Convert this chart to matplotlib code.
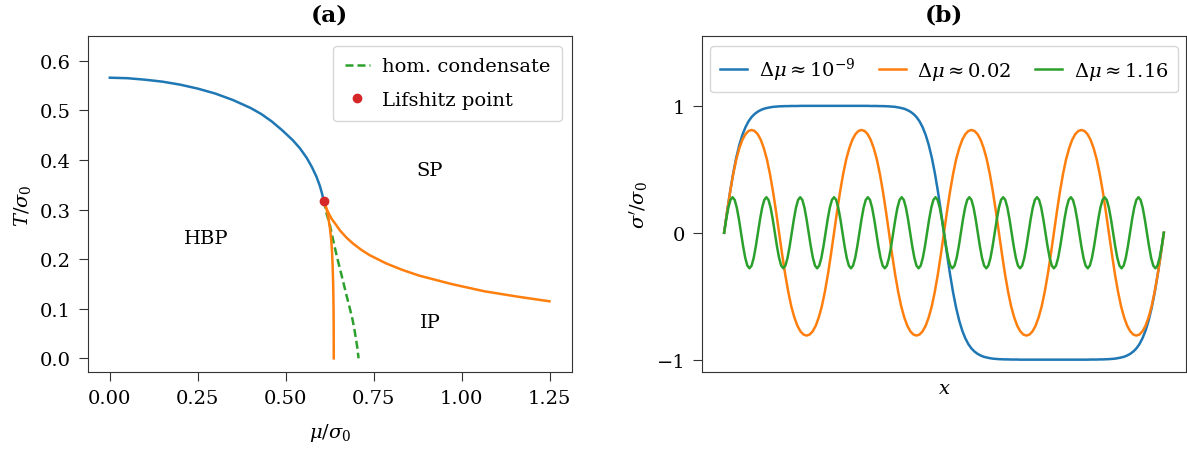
import numpy as np
import matplotlib.pyplot as plt
from matplotlib.ticker import FormatStrFormatter

plt.rcParams['font.family'] = 'DejaVu Serif'
plt.rcParams['mathtext.fontset'] = 'dejavuserif'
plt.rcParams['font.size'] = 14
plt.rcParams['axes.edgecolor'] = '#333333'
plt.rcParams['xtick.color'] = '#333333'
plt.rcParams['ytick.color'] = '#333333'
plt.rcParams['xtick.labelcolor'] = 'black'
plt.rcParams['ytick.labelcolor'] = 'black'
plt.rcParams['xtick.major.size'] = 6.5
plt.rcParams['ytick.major.size'] = 6.5
plt.rcParams['xtick.major.pad'] = 5.5
plt.rcParams['ytick.major.pad'] = 5.5
plt.rcParams['axes.labelpad'] = 5

# (a) phase boundaries in the (mu, T) plane, both in units of sigma_0
hom_mu = [0.0, 0.05, 0.10, 0.15, 0.20, 0.25, 0.30, 0.35, 0.40, 0.43, 0.46, 0.49, 0.52, 0.54,
          0.56, 0.575, 0.587, 0.597, 0.603, 0.608]
hom_T = [0.566, 0.565, 0.562, 0.558, 0.552, 0.544, 0.534, 0.521, 0.505, 0.493, 0.478, 0.460, 0.440, 0.424,
         0.404, 0.385, 0.367, 0.348, 0.333, 0.318]

ip_left_mu = [0.608, 0.611, 0.614, 0.6183, 0.622, 0.6258, 0.6285, 0.6305, 0.632, 0.6333, 0.6343,
              0.6351, 0.6357, 0.6361, 0.6364, 0.6366]
ip_left_T = [0.318, 0.312, 0.306, 0.295, 0.280, 0.262, 0.245, 0.228, 0.210, 0.188, 0.165,
             0.142, 0.118, 0.095, 0.060, 0.0]

ip_right_mu = [0.608, 0.6099, 0.6127, 0.6164, 0.6220, 0.6305, 0.6408, 0.6539, 0.6726, 0.6913, 0.7147,
               0.7381, 0.7849, 0.8317, 0.8785, 0.9721, 1.0657, 1.1593, 1.25]
ip_right_T = [0.318, 0.3134, 0.3081, 0.3014, 0.2927, 0.2814, 0.2715, 0.2582, 0.2435, 0.2315, 0.2189,
              0.2083, 0.1916, 0.1783, 0.1670, 0.1497, 0.1351, 0.1244, 0.115]

cond_mu = [0.608, 0.615, 0.6258, 0.635, 0.6445, 0.6540, 0.6632, 0.6725, 0.6819, 0.690, 0.696, 0.7035, 0.7071]
cond_T = [0.318, 0.295, 0.2681, 0.238, 0.2083, 0.181, 0.155, 0.128, 0.1018, 0.078, 0.0552, 0.022, 0.0]

lifshitz_mu = [0.608]
lifshitz_T = [0.318]

phase_names = ['HBP', 'SP', 'IP']
phase_mu = [0.275, 0.91, 0.91]
phase_T = [0.243, 0.379, 0.074]

mu_ticks = [0.0, 0.25, 0.5, 0.75, 1.0, 1.25]

# (b) condensate profiles over one box length
kink = [
    0.0, 0.169, 0.329, 0.472, 0.594, 0.693, 0.772, 0.832, 0.878, 0.912, 0.936, 0.954,
    0.967, 0.977, 0.983, 0.988, 0.992, 0.994, 0.996, 0.997, 0.998, 0.998, 0.999, 0.999,
    0.999, 1.0, 1.0, 1.0, 1.0, 1.0, 1.0, 1.0, 1.0, 1.0, 1.0, 1.0,
    1.0, 1.0, 1.0, 1.0, 1.0, 1.0, 1.0, 1.0, 1.0, 1.0, 1.0, 1.0,
    0.999, 0.999, 0.999, 0.998, 0.998, 0.997, 0.996, 0.994, 0.992, 0.988, 0.983, 0.977,
    0.967, 0.954, 0.936, 0.912, 0.878, 0.832, 0.772, 0.693, 0.594, 0.472, 0.329, 0.169,
    0.0, -0.169, -0.329, -0.472, -0.594, -0.693, -0.772, -0.832, -0.878, -0.912, -0.936, -0.954,
    -0.967, -0.977, -0.983, -0.988, -0.992, -0.994, -0.996, -0.997, -0.998, -0.998, -0.999, -0.999,
    -0.999, -1.0, -1.0, -1.0, -1.0, -1.0, -1.0, -1.0, -1.0, -1.0, -1.0, -1.0,
    -1.0, -1.0, -1.0, -1.0, -1.0, -1.0, -1.0, -1.0, -1.0, -1.0, -1.0, -1.0,
    -0.999, -0.999, -0.999, -0.998, -0.998, -0.997, -0.996, -0.994, -0.992, -0.988, -0.983, -0.977,
    -0.967, -0.954, -0.936, -0.912, -0.878, -0.832, -0.772, -0.693, -0.594, -0.472, -0.329, -0.169,
    0.0,
]

mid = [
    0.0, 0.169, 0.327, 0.465, 0.580, 0.667, 0.733, 0.777, 0.802, 0.81, 0.802, 0.777, 0.733, 0.667, 0.580, 0.465, 0.327, 0.169,
    0.0, -0.169, -0.327, -0.465, -0.580, -0.667, -0.733, -0.777, -0.802, -0.81, -0.802, -0.777, -0.733, -0.667, -0.580, -0.465, -0.327, -0.169,
    0.0, 0.169, 0.327, 0.465, 0.580, 0.667, 0.733, 0.777, 0.802, 0.81, 0.802, 0.777, 0.733, 0.667, 0.580, 0.465, 0.327, 0.169,
    0.0, -0.169, -0.327, -0.465, -0.580, -0.667, -0.733, -0.777, -0.802, -0.81, -0.802, -0.777, -0.733, -0.667, -0.580, -0.465, -0.327, -0.169,
    0.0, 0.169, 0.327, 0.465, 0.580, 0.667, 0.733, 0.777, 0.802, 0.81, 0.802, 0.777, 0.733, 0.667, 0.580, 0.465, 0.327, 0.169,
    0.0, -0.169, -0.327, -0.465, -0.580, -0.667, -0.733, -0.777, -0.802, -0.81, -0.802, -0.777, -0.733, -0.667, -0.580, -0.465, -0.327, -0.169,
    0.0, 0.169, 0.327, 0.465, 0.580, 0.667, 0.733, 0.777, 0.802, 0.81, 0.802, 0.777, 0.733, 0.667, 0.580, 0.465, 0.327, 0.169,
    0.0, -0.169, -0.327, -0.465, -0.580, -0.667, -0.733, -0.777, -0.802, -0.81, -0.802, -0.777, -0.733, -0.667, -0.580, -0.465, -0.327, -0.169,
    0.0,
]

fast = [
    0.0, 0.107, 0.198, 0.259, 0.28, 0.259, 0.198, 0.107, 0.0, -0.107, -0.198, -0.259, -0.28, -0.259, -0.198, -0.107,
    0.0, 0.107, 0.198, 0.259, 0.28, 0.259, 0.198, 0.107, 0.0, -0.107, -0.198, -0.259, -0.28, -0.259, -0.198, -0.107,
    0.0, 0.107, 0.198, 0.259, 0.28, 0.259, 0.198, 0.107, 0.0, -0.107, -0.198, -0.259, -0.28, -0.259, -0.198, -0.107,
    0.0, 0.107, 0.198, 0.259, 0.28, 0.259, 0.198, 0.107, 0.0, -0.107, -0.198, -0.259, -0.28, -0.259, -0.198, -0.107,
    0.0, 0.107, 0.198, 0.259, 0.28, 0.259, 0.198, 0.107, 0.0, -0.107, -0.198, -0.259, -0.28, -0.259, -0.198, -0.107,
    0.0, 0.107, 0.198, 0.259, 0.28, 0.259, 0.198, 0.107, 0.0, -0.107, -0.198, -0.259, -0.28, -0.259, -0.198, -0.107,
    0.0, 0.107, 0.198, 0.259, 0.28, 0.259, 0.198, 0.107, 0.0, -0.107, -0.198, -0.259, -0.28, -0.259, -0.198, -0.107,
    0.0, 0.107, 0.198, 0.259, 0.28, 0.259, 0.198, 0.107, 0.0, -0.107, -0.198, -0.259, -0.28, -0.259, -0.198, -0.107,
    0.0, 0.107, 0.198, 0.259, 0.28, 0.259, 0.198, 0.107, 0.0, -0.107, -0.198, -0.259, -0.28, -0.259, -0.198, -0.107,
    0.0, 0.107, 0.198, 0.259, 0.28, 0.259, 0.198, 0.107, 0.0, -0.107, -0.198, -0.259, -0.28, -0.259, -0.198, -0.107,
    0.0, 0.107, 0.198, 0.259, 0.28, 0.259, 0.198, 0.107, 0.0, -0.107, -0.198, -0.259, -0.28, -0.259, -0.198, -0.107,
    0.0, 0.107, 0.198, 0.259, 0.28, 0.259, 0.198, 0.107, 0.0, -0.107, -0.198, -0.259, -0.28, -0.259, -0.198, -0.107,
    0.0, 0.107, 0.198, 0.259, 0.28, 0.259, 0.198, 0.107, 0.0, -0.107, -0.198, -0.259, -0.28, -0.259, -0.198, -0.107,
    0.0,
]

profiles = [kink, mid, fast]
profile_labels = [r'$\Delta\mu \approx 10^{-9}$', r'$\Delta\mu \approx 0.02$', r'$\Delta\mu \approx 1.16$']

fig, (ax1, ax2) = plt.subplots(1, 2, figsize=(11.87, 4.52), dpi=100)
fig.subplots_adjust(left=0.074, right=0.999, bottom=0.174, top=0.918, wspace=0.27)

lw = 1.8

# phase diagram
ax1.plot(hom_mu, hom_T, color='C0', lw=lw)
ax1.plot(cond_mu, cond_T, '--', color='C2', lw=lw, dashes=(3.2, 1.6), label='hom. condensate')
ax1.plot(ip_left_mu, ip_left_T, color='C1', lw=lw)
ax1.plot(ip_right_mu, ip_right_T, color='C1', lw=lw)
ax1.plot(lifshitz_mu, lifshitz_T, 'o', color='C3', ms=6, label='Lifshitz point', zorder=5)
for name, m, t in zip(phase_names, phase_mu, phase_T):
    ax1.text(m, t, name, ha='center', va='center')
ax1.set_xticks(mu_ticks)
ax1.xaxis.set_major_formatter(FormatStrFormatter('%.2f'))
ax1.set_ylim(top=0.65)
ax1.set_xlabel(r'$\mu/\sigma_0$', labelpad=10)
ax1.set_ylabel(r'$T/\sigma_0$')
ax1.set_title('(a)', fontweight='bold', pad=11)
ax1.legend(loc='upper right', handlelength=1.3, handletextpad=0.6,
           labelspacing=0.8, borderpad=0.6)

# profiles
for prof, lab in zip(profiles, profile_labels):
    ax2.plot(np.linspace(0, 1, len(prof)), prof, lw=lw, label=lab)
ax2.set_ylim(-1.1, 1.55)
ax2.set_yticks([-1, 0, 1])
ax2.set_xticks([])
ax2.set_xlabel(r'$x$')
ax2.set_ylabel(r"$\sigma'/\sigma_0$")
ax2.set_title('(b)', fontweight='bold', pad=11)
ax2.legend(loc='upper center', ncol=3, handlelength=1.4, handletextpad=0.6,
           columnspacing=1.2, borderpad=0.5)

fig.savefig('out.png', dpi=100)
